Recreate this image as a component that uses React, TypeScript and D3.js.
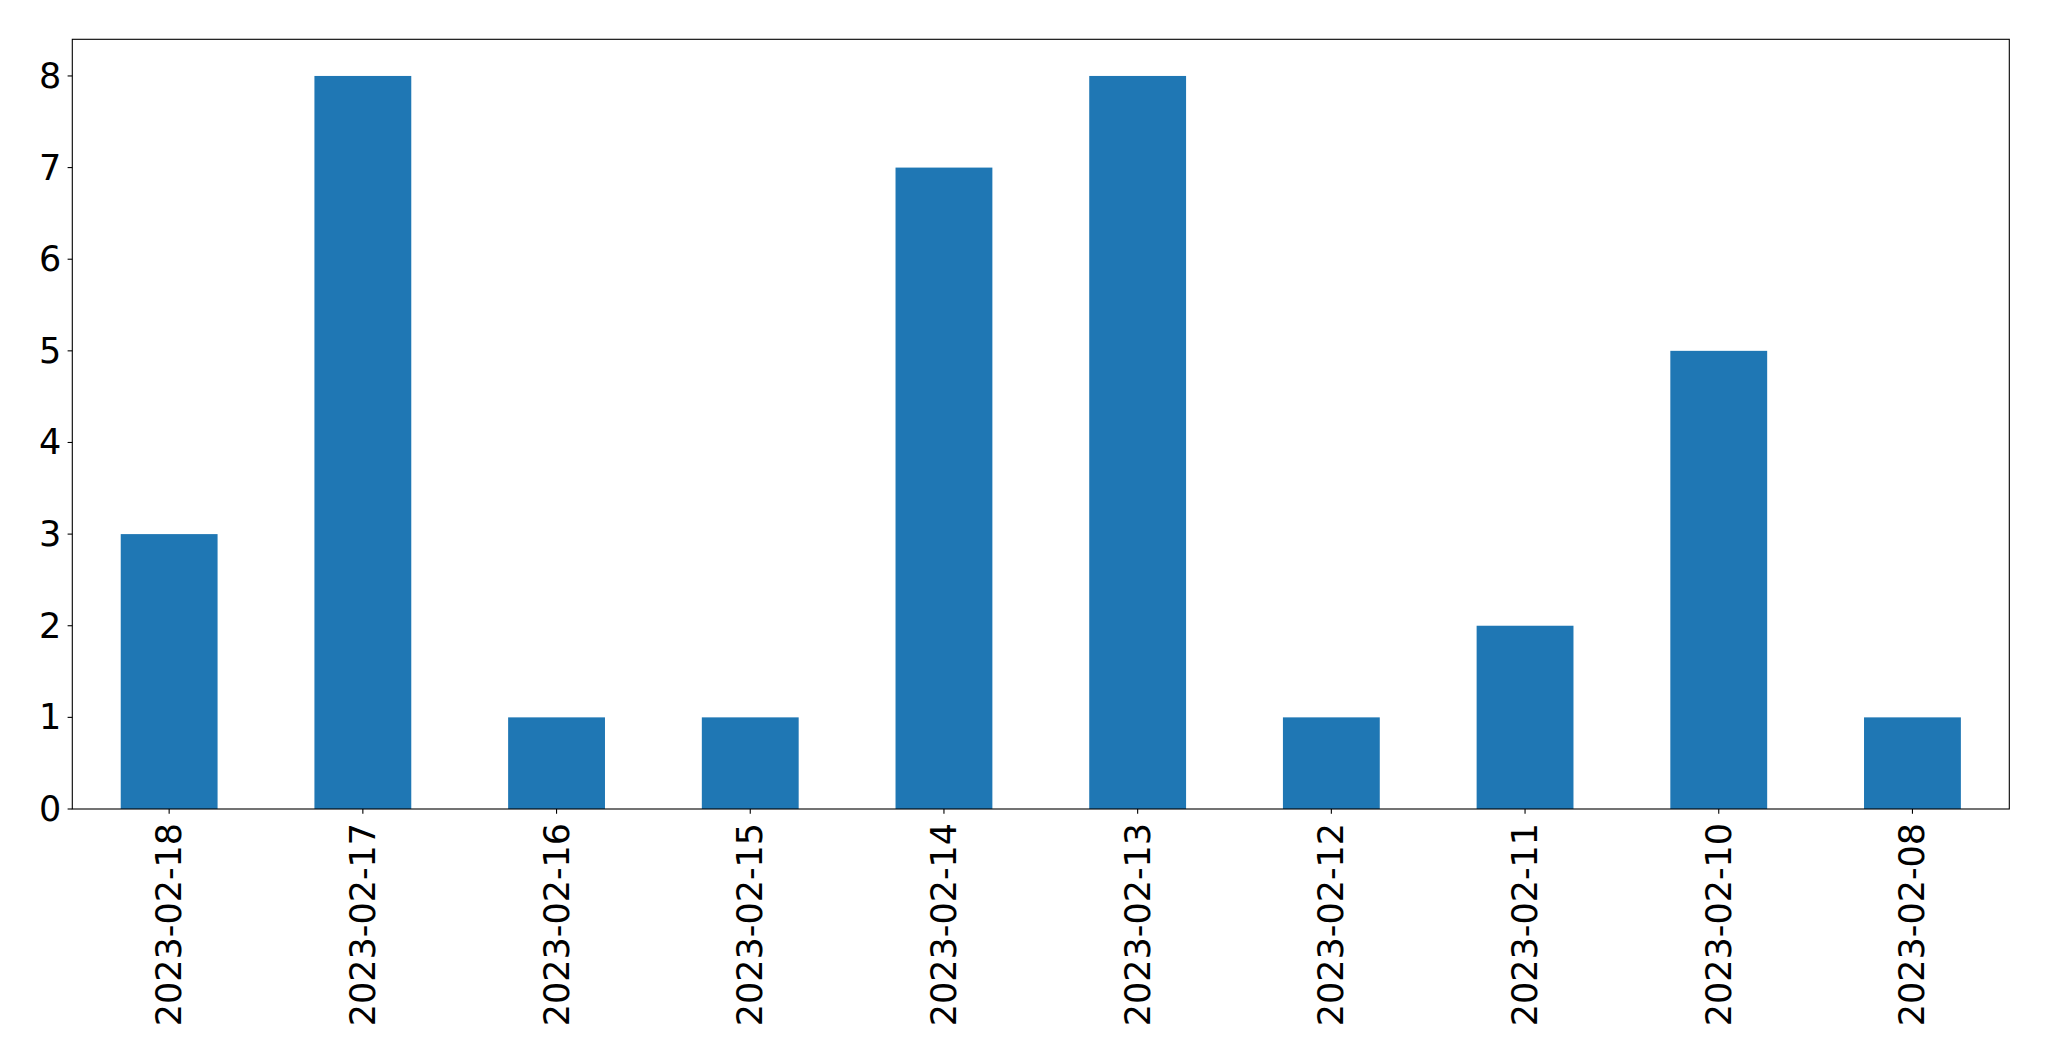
import React, { useEffect, useRef } from "react";
import * as d3 from "d3";

const categories = [
  "2023-02-18",
  "2023-02-17",
  "2023-02-16",
  "2023-02-15",
  "2023-02-14",
  "2023-02-13",
  "2023-02-12",
  "2023-02-11",
  "2023-02-10",
  "2023-02-08",
];
const values = [3, 8, 1, 1, 7, 8, 1, 2, 5, 1];
const yTicks = [0, 1, 2, 3, 4, 5, 6, 7, 8];

const W = 2049;
const H = 1061;
const margin = { left: 72.3, right: 2009.3, top: 39.3, bottom: 809 };
const FONT = "DejaVu Sans, sans-serif";
const FS = 35;
const TICK = 4.7;
const PAD = 4.7;

export default function App() {
  const ref = useRef<SVGSVGElement>(null);

  useEffect(() => {
    const svg = d3.select(ref.current);
    svg.selectAll("*").remove();

    const x = d3
      .scaleLinear()
      .domain([-0.5, categories.length - 0.5])
      .range([margin.left, margin.right]);
    const ymax = d3.max(values)! * 1.05;
    const y = d3.scaleLinear().domain([0, ymax]).range([margin.bottom, margin.top]);
    const bw = x(0.5) - x(0);

    svg
      .append("rect")
      .attr("width", W)
      .attr("height", H)
      .attr("fill", "white");

    svg
      .append("g")
      .selectAll("rect")
      .data(values)
      .join("rect")
      .attr("x", (_, i) => x(i) - bw / 2)
      .attr("width", bw)
      .attr("y", (d) => y(d))
      .attr("height", (d) => y(0) - y(d))
      .attr("fill", "#1f77b4");

    // spines
    svg
      .append("rect")
      .attr("x", margin.left)
      .attr("y", margin.top)
      .attr("width", margin.right - margin.left)
      .attr("height", margin.bottom - margin.top)
      .attr("fill", "none")
      .attr("stroke", "black")
      .attr("stroke-width", 1.1);

    // y ticks
    const gy = svg.append("g");
    yTicks.forEach((t) => {
      gy.append("line")
        .attr("x1", margin.left - TICK)
        .attr("x2", margin.left)
        .attr("y1", y(t))
        .attr("y2", y(t))
        .attr("stroke", "black")
        .attr("stroke-width", 1.1);
      gy.append("text")
        .attr("x", margin.left - TICK - PAD - 1.5)
        .attr("y", y(t))
        .attr("text-anchor", "end")
        .attr("dominant-baseline", "central")
        .attr("font-family", FONT)
        .attr("font-size", FS)
        .attr("fill", "black")
        .text(String(t));
    });

    // x ticks
    const gx = svg.append("g");
    categories.forEach((c, i) => {
      const cx = x(i);
      gx.append("line")
        .attr("x1", cx)
        .attr("x2", cx)
        .attr("y1", margin.bottom)
        .attr("y2", margin.bottom + TICK)
        .attr("stroke", "black")
        .attr("stroke-width", 1.1);
      const ty = margin.bottom + TICK + PAD + 4.5;
      gx.append("text")
        .attr("transform", `translate(${cx},${ty}) rotate(-90)`)
        .attr("text-anchor", "end")
        .attr("dominant-baseline", "central")
        .attr("font-family", FONT)
        .attr("font-size", FS)
        .attr("fill", "black")
        .text(c);
    });
  }, []);

  return (
    <svg
      ref={ref}
      width={W}
      height={H}
      style={{ position: "absolute", left: 0, top: 0, display: "block" }}
    />
  );
}
